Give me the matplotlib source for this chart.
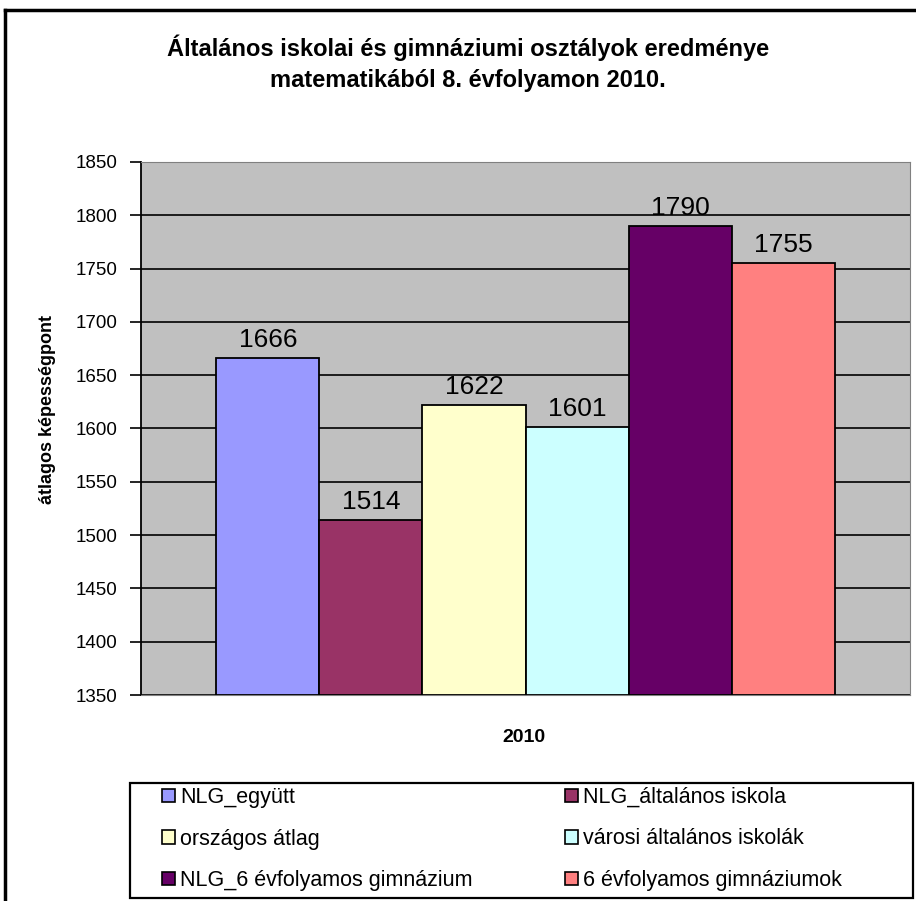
import matplotlib
matplotlib.use('Agg')
import matplotlib.pyplot as plt
from matplotlib.patches import Patch, Rectangle
from matplotlib.lines import Line2D

plt.rcParams['font.family'] = ['Liberation Sans', 'DejaVu Sans']

# adatok
kategoriak = ['NLG_együtt', 'NLG_általános iskola', 'országos átlag',
              'városi általános iskolák', 'NLG_6 évfolyamos gimnázium',
              '6 évfolyamos gimnáziumok']
ertekek = [1666, 1514, 1622, 1601, 1790, 1755]
szinek = ['#9999FF', '#993366', '#FFFFCC', '#CCFFFF', '#660066', '#FF8080']
y_tickek = [1350, 1400, 1450, 1500, 1550, 1600, 1650, 1700, 1750, 1800, 1850]

fig = plt.figure(figsize=(9.16, 9.01), dpi=100)
ax = fig.add_axes([141 / 916, 1 - 695 / 901, 769 / 916, 533 / 901])
ax.set_facecolor('#C0C0C0')

# oszlopok
x = [i - (len(ertekek) - 1) / 2 for i in range(len(ertekek))]
ax.bar(x, [v - 1350 for v in ertekek], bottom=1350, width=1.0,
       color=szinek, edgecolor='black', linewidth=1.3, zorder=3)
for xi, v in zip(x, ertekek):
    ax.text(xi, v + 6, str(v), ha='center', va='bottom', fontsize=19, zorder=4)

ax.set_ylim(1350, 1850)
ax.set_xlim(-3 - 0.73, 3 + 0.73)
ax.set_yticks(y_tickek)
ax.tick_params(axis='y', direction='out', length=8, width=1.2, labelsize=13.5, pad=9)
ax.set_xticks([])
ax.yaxis.grid(True, color='black', linewidth=1.2, zorder=1)
ax.set_axisbelow(True)
for s in ['top', 'right', 'bottom']:
    ax.spines[s].set_color('#808080')
ax.spines['left'].set_color('black')
ax.spines['left'].set_linewidth(1.3)

fig.text(48 / 916, 1 - 409 / 901, 'átlagos képességpont', rotation=90,
         ha='center', va='center', fontsize=13, fontweight='bold')
fig.text(524 / 916, 1 - 737 / 901, '2010', ha='center', va='center',
         fontsize=14, fontweight='bold')

fig.text(468 / 916, 1 - 48 / 901, 'Általános iskolai és gimnáziumi osztályok eredménye',
         ha='center', va='center', fontsize=17, fontweight='bold')
fig.text(468 / 916, 1 - 80 / 901, 'matematikából 8. évfolyamon 2010.',
         ha='center', va='center', fontsize=17, fontweight='bold')

# jelmagyarázat: keret + két oszlop
fig.add_artist(Rectangle((130 / 916, 1 - 898 / 901), 783 / 916, 115 / 901,
                         transform=fig.transFigure, facecolor='white',
                         edgecolor='black', linewidth=1.6))
kezelok = [Patch(facecolor=c, edgecolor='black', linewidth=1.2) for c in szinek]
for oszlop, x_bal in [(0, 162), (1, 565)]:
    idx = [oszlop, oszlop + 2, oszlop + 4]
    leg = fig.legend([kezelok[i] for i in idx], [kategoriak[i] for i in idx],
                     loc='center left',
                     bbox_to_anchor=(x_bal / 916, 1 - 839 / 901),
                     fontsize=15.5, frameon=False,
                     handlelength=0.6, handleheight=0.6,
                     handletextpad=0.25, labelspacing=0.95, borderpad=0,
                     borderaxespad=0)

# külső keret
fig.add_artist(Line2D([5 / 916, 5 / 916], [0, 1 - 10 / 901], color='black', linewidth=2.5))
fig.add_artist(Line2D([5 / 916, 1], [1 - 10 / 901, 1 - 10 / 901], color='black', linewidth=2.5))

fig.savefig('out.png', dpi=100)
